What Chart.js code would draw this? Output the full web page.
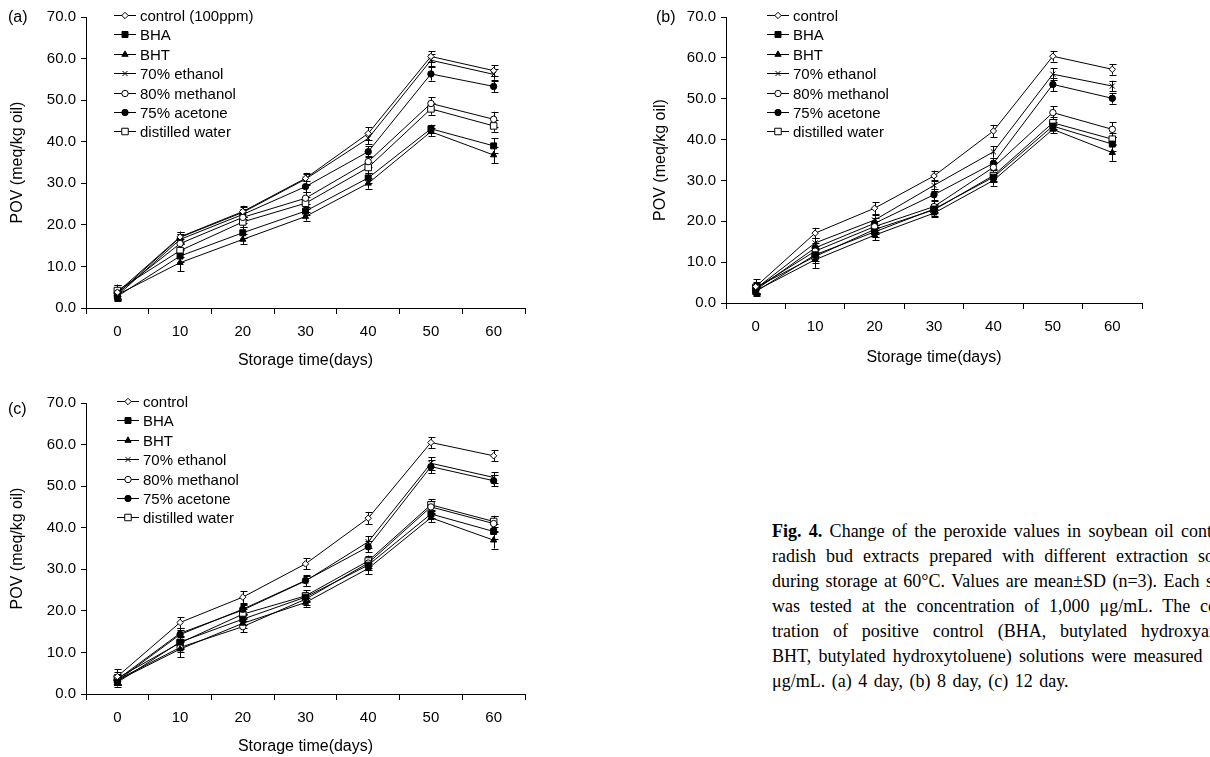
<!DOCTYPE html>
<html>
<head>
<meta charset="utf-8">
<script src="https://cdn.jsdelivr.net/npm/chart.js@4.4.1/dist/chart.umd.min.js"></script>
<style>
  body { margin: 0; width: 1210px; height: 757px; overflow: hidden; background: #fff; position: relative; }
  canvas { position: absolute; }
  .tag { position: absolute; font: 16px "Liberation Sans", Arial, sans-serif; }
  #caption { position: absolute; left: 772px; top: 519px; width: 485px;
             font-family: "Liberation Serif", "Times New Roman", serif; font-size: 18px; line-height: 25px; color: #000; }
  #caption div { text-align: justify; text-align-last: justify; white-space: nowrap; }
  #caption div.last { text-align-last: left; word-spacing: 2px; }
</style>
</head>
<body>
<canvas id="chartA" width="560" height="374" style="left:0;top:0"></canvas>
<canvas id="chartB" width="570" height="371" style="left:640px;top:0"></canvas>
<canvas id="chartC" width="560" height="374" style="left:0;top:386px"></canvas>
<div class="tag" style="left:8px;top:8px">(a)</div>
<div class="tag" style="left:656px;top:8px">(b)</div>
<div class="tag" style="left:8px;top:400px">(c)</div>
<div id="caption">
  <div><b>Fig. 4.</b> Change of the peroxide values in soybean oil containing</div>
  <div>radish bud extracts prepared with different extraction solvents</div>
  <div>during storage at 60°C. Values are mean±SD (n=3). Each sample</div>
  <div>was tested at the concentration of 1,000 μg/mL. The concen-</div>
  <div>tration of positive control (BHA, butylated hydroxyanisole;</div>
  <div>BHT, butylated hydroxytoluene) solutions were measured at 200</div>
  <div class="last">μg/mL. (a) 4 day, (b) 8 day, (c) 12 day.</div>
</div>
<script>
// storage time categories
var days = ['0', '10', '20', '30', '40', '50', '60'];
var seriesLabels = ['control', 'BHA', 'BHT', '70% ethanol', '80% methanol', '75% acetone', 'distilled water'];

// (a) 4 day
var controlA  = [3.8, 17.1, 23.2, 31.2, 42.0, 60.5, 57.1];
var bhaA      = [2.8, 12.5, 18.1, 23.3, 31.3, 43.1, 39.0];
var bhtA      = [3.2, 10.9, 16.5, 22.0, 30.0, 42.4, 36.8];
var ethanolA  = [3.4, 17.0, 23.0, 31.0, 40.8, 59.6, 56.2];
var methanolA = [3.6, 15.5, 21.8, 26.4, 35.2, 49.2, 45.4];
var acetoneA  = [3.0, 16.5, 22.5, 29.2, 37.6, 56.3, 53.3];
var waterA    = [4.2, 13.8, 20.7, 25.2, 33.8, 47.9, 43.8];

// (b) 8 day
var controlB  = [4.0, 17.1, 23.2, 31.1, 42.1, 60.4, 57.2];
var bhaB      = [2.8, 11.8, 17.4, 23.0, 30.8, 43.3, 38.9];
var bhtB      = [3.0, 10.6, 16.6, 22.0, 30.0, 42.5, 36.8];
var ethanolB  = [3.5, 14.7, 20.3, 28.8, 37.0, 56.0, 53.1];
var methanolB = [3.6, 12.7, 18.7, 23.6, 33.2, 46.6, 42.5];
var acetoneB  = [3.2, 13.5, 19.5, 26.5, 34.2, 53.5, 50.1];
var waterB    = [3.8, 11.4, 18.0, 22.8, 31.2, 44.1, 40.1];

// (c) 12 day
var controlC  = [4.2, 17.2, 23.3, 31.3, 42.3, 60.5, 57.3];
var bhaC      = [2.8, 12.5, 18.0, 23.3, 31.0, 43.3, 39.1];
var bhtC      = [3.2, 10.8, 17.0, 22.0, 30.2, 42.4, 37.0];
var ethanolC  = [3.5, 14.6, 20.2, 27.2, 36.6, 55.5, 52.1];
var methanolC = [3.4, 11.2, 16.2, 22.8, 31.5, 45.0, 41.0];
var acetoneC  = [3.2, 14.3, 20.4, 27.3, 35.4, 54.7, 51.3];
var waterC    = [3.8, 12.3, 19.2, 23.6, 32.0, 45.5, 41.5];

// standard deviations (error bars), one list per series, same for the three panels
var sdControl  = [1.8, 1.3, 1.4, 1.3, 1.5, 1.3, 1.3];
var sdBha      = [1.0, 1.5, 1.3, 1.0, 1.2, 1.0, 1.8];
var sdBht      = [1.0, 2.0, 1.2, 1.0, 1.3, 1.0, 2.0];
var sdEthanol  = [1.2, 1.3, 1.2, 1.3, 1.4, 1.5, 1.3];
var sdMethanol = [1.2, 1.2, 1.3, 1.4, 1.3, 1.5, 1.8];
var sdAcetone  = [1.0, 1.2, 1.2, 1.3, 1.3, 1.6, 1.3];
var sdWater    = [1.4, 1.5, 1.2, 1.4, 1.3, 1.4, 1.4];
var sdLists = [sdControl, sdBha, sdBht, sdEthanol, sdMethanol, sdAcetone, sdWater];

// marker look for each series, in legend order
var markers = [
  {style: 'rectRot', r: 3.2, fill: '#fff'},
  {style: 'rect', r: 4.2, fill: '#000'},
  {style: 'triangle', r: 3.6, fill: '#000'},
  {style: 'crossRot', r: 3.6, fill: '#000'},
  {style: 'circle', r: 3.2, fill: '#fff'},
  {style: 'circle', r: 3.2, fill: '#000'},
  {style: 'rect', r: 4.6, fill: '#fff'}
];

var FONT = '"Liberation Sans", Arial, sans-serif';

// vertical error bars through the y scale of the chart
var errorBars = {
  id: 'errorBars',
  beforeDatasetsDraw: function(chart) {
    var ctx = chart.ctx, y = chart.scales.y;
    ctx.save();
    ctx.strokeStyle = '#000';
    ctx.lineWidth = 1;
    chart.data.datasets.forEach(function(ds, i) {
      chart.getDatasetMeta(i).data.forEach(function(pt, j) {
        var top = y.getPixelForValue(ds.data[j] + ds.sd[j]);
        var bot = y.getPixelForValue(ds.data[j] - ds.sd[j]);
        var x = Math.round(pt.x) + 0.5;
        ctx.beginPath();
        ctx.moveTo(x, top); ctx.lineTo(x, bot);
        ctx.moveTo(x - 3, Math.round(top) + 0.5); ctx.lineTo(x + 4, Math.round(top) + 0.5);
        ctx.moveTo(x - 3, Math.round(bot) + 0.5); ctx.lineTo(x + 4, Math.round(bot) + 0.5);
        ctx.stroke();
      });
    });
    ctx.restore();
  }
};

// legend like the Excel one: short line with the marker on it, inside the plot
var lineLegend = {
  id: 'lineLegend',
  afterDraw: function(chart, args, opts) {
    var ctx = chart.ctx, area = chart.chartArea;
    var x0 = area.left + opts.dx, y0 = area.top + opts.dy;
    ctx.save();
    ctx.font = '15px ' + FONT;
    ctx.textBaseline = 'middle';
    chart.data.datasets.forEach(function(ds, i) {
      var y = Math.round(y0 + i * 19.4) + 0.5;
      ctx.strokeStyle = '#000';
      ctx.lineWidth = 1;
      ctx.beginPath();
      ctx.moveTo(x0, y); ctx.lineTo(x0 + 22, y);
      ctx.stroke();
      var m = markers[i];
      ctx.fillStyle = m.fill;
      Chart.helpers.drawPoint(ctx, {pointStyle: m.style, radius: m.r, rotation: 0, borderWidth: 1}, x0 + 11, y);
      ctx.fillStyle = '#000';
      ctx.fillText(ds.label, x0 + 26, y + 1);
    });
    ctx.restore();
  }
};

function makePanel(id, lists, firstLabel, legendDx, yTitlePad) {
  var canvas = document.getElementById(id);
  var H = canvas.height;
  var datasets = lists.map(function(vals, i) {
    return {
      label: i === 0 && firstLabel ? firstLabel : seriesLabels[i],
      data: vals,
      sd: sdLists[i],
      borderColor: '#000',
      borderWidth: 1,
      pointStyle: markers[i].style,
      pointRadius: markers[i].r,
      pointBackgroundColor: markers[i].fill,
      pointBorderColor: '#000',
      pointBorderWidth: 1,
      tension: 0,
      fill: false
    };
  });
  return new Chart(canvas, {
    type: 'line',
    data: {labels: days, datasets: datasets},
    options: {
      responsive: false,
      animation: false,
      devicePixelRatio: 1,
      layout: {padding: {left: 0, top: 17, right: canvas.width - (id === 'chartB' ? 502 : 525), bottom: 0}},
      scales: {
        x: {
          type: 'category',
          offset: true,
          grid: {offset: true, drawOnChartArea: false, drawTicks: true, tickLength: 6, color: '#000'},
          border: {color: '#000', width: 1},
          ticks: {color: '#000', font: {family: FONT, size: 15}, padding: 9, maxRotation: 0},
          title: {display: true, text: 'Storage time(days)', color: '#000', font: {family: FONT, size: 16}, padding: {top: 0, bottom: 4}},
          afterFit: function(scale) { scale.height = H - (id === 'chartB' ? 303 : 308); }
        },
        y: {
          min: 0, max: 70,
          grid: {drawOnChartArea: false, drawTicks: true, tickLength: 5, color: '#000'},
          border: {color: '#000', width: 1},
          ticks: {stepSize: 10, color: '#000', font: {family: FONT, size: 15}, padding: 5,
                  callback: function(v) { return v.toFixed(1); }},
          title: {display: true, text: 'POV (meq/kg oil)', color: '#000', font: {family: FONT, size: 16}, padding: {top: yTitlePad, bottom: 0}},
          afterFit: function(scale) { scale.width = 86; }
        }
      },
      plugins: {
        legend: {display: false},
        tooltip: {enabled: false},
        lineLegend: {dx: legendDx, dy: -2}
      }
    },
    plugins: [errorBars, lineLegend]
  });
}

makePanel('chartA', [controlA, bhaA, bhtA, ethanolA, methanolA, acetoneA, waterA], 'control (100ppm)', 28, 8);
makePanel('chartB', [controlB, bhaB, bhtB, ethanolB, methanolB, acetoneB, waterB], null, 41, 11);
makePanel('chartC', [controlC, bhaC, bhtC, ethanolC, methanolC, acetoneC, waterC], null, 31, 8);
</script>
</body>
</html>
